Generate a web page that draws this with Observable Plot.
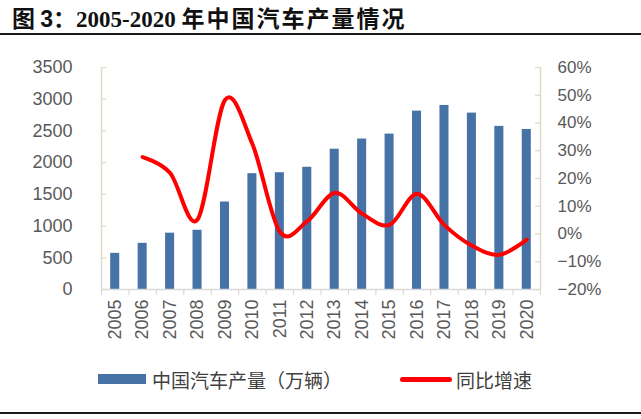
<!DOCTYPE html>
<html><head><meta charset="utf-8">
<script src="https://cdn.jsdelivr.net/npm/d3@7"></script>
<script src="https://cdn.jsdelivr.net/npm/@observablehq/plot@0.6"></script>
<style>
html,body{margin:0;padding:0;background:#fff}
body{width:641px;height:419px;position:relative;overflow:hidden}
#title{position:absolute;left:0;top:0;width:641px;height:33px;border-bottom:2px solid #1a1a1a;box-sizing:content-box}
#title .t{position:absolute;left:12px;top:3px;line-height:28px;font-size:23px;font-weight:bold;color:#111;white-space:nowrap;font-family:"Liberation Serif","Noto Sans CJK SC",serif}
#title .s{font-family:"Liberation Sans",Arial,sans-serif}
#title .c{font-family:"Noto Sans CJK SC",sans-serif}
#title .cs{font-family:"Noto Sans CJK SC",sans-serif;letter-spacing:2px}
#chart{position:absolute;left:0;top:40px}
#legend{position:absolute;left:0;top:366px;width:641px;height:26px;font-family:"Noto Sans CJK SC",sans-serif;font-size:19px;color:#404040}
#legend .item{position:absolute;top:0;height:26px;display:flex;align-items:center;white-space:nowrap}
#legend .sw{display:inline-block;margin-right:6px}
#foot{position:absolute;left:0;top:412px;width:641px;height:0;border-top:2px solid #1a1a1a}
</style></head>
<body>
<div id="title"><div class="t"><span class="c">图&nbsp;</span><span class="s">3</span><span class="c">：</span>2005-2020 <span class="cs">年中国汽车产量情况</span></div></div>
<div id="chart"></div>
<div id="legend">
  <div class="item" style="left:98px"><span class="sw" style="width:48px;height:10px;background:#4672A6"></span><span>中国汽车产量（万辆）</span></div>
  <div class="item" style="left:400px"><span class="sw" style="width:52px;height:5px;border-radius:3px;background:#FF0000;margin-right:4px"></span><span>同比增速</span></div>
</div>
<div id="foot"></div>
<script>
const years = [2005,2006,2007,2008,2009,2010,2011,2012,2013,2014,2015,2016,2017,2018,2019,2020];
const production = [570,728,888,934,1379,1826,1841,1927,2212,2372,2450,2812,2902,2781,2572,2523];
const growth = [null,27.7,22.0,5.2,48.3,32.4,0.8,4.6,14.8,7.3,3.3,14.5,3.2,-4.2,-7.5,-2.0];
const leftTicks = [0,500,1000,1500,2000,2500,3000,3500];
const rightTicks = [-20,-10,0,10,20,30,40,50,60];

const LMAX = 3500, RMIN = -20, RMAX = 60;
const toLeft = g => (g - RMIN) / (RMAX - RMIN) * LMAX;
const fromLeft = v => v / LMAX * (RMAX - RMIN) + RMIN;

const barData = years.map((y, i) => ({year: y, production: production[i]}));
const lineData = years.map((y, i) => ({year: y, growth: growth[i]})).filter(d => d.growth != null);
const boundaries = d3.range(years[0] - 0.5, years[years.length - 1] + 1, 1);

const axisColor = "#d9d9d9";
const sideColor = "#dedac6";
const labelColor = "#595959";

const chart = Plot.plot({
  width: 641,
  height: 320,
  marginLeft: 101,
  marginRight: 101,
  marginTop: 27,
  marginBottom: 71,
  style: {fontFamily: "'Liberation Sans', Arial, sans-serif", background: "transparent"},
  x: {domain: [years[0] - 0.5, years[years.length - 1] + 0.5]},
  y: {domain: [0, LMAX]},
  marks: [
    Plot.rectY(barData, {x1: d => d.year - 0.5, x2: d => d.year + 0.5, y: "production", fill: "#4672A6", insetLeft: 9.2, insetRight: 9.2}),
    Plot.ruleY([0], {stroke: axisColor, strokeWidth: 1.5}),
    Plot.ruleX(boundaries, {x: d => d, y1: 0, y2: 0, insetBottom: -6, stroke: axisColor, strokeWidth: 1.2}),
    Plot.ruleX([years[0] - 0.5], {y1: 0, y2: LMAX, stroke: sideColor, strokeWidth: 1.5}),
    Plot.ruleX([years[years.length - 1] + 0.5], {y1: 0, y2: LMAX, stroke: sideColor, strokeWidth: 1.5}),
    Plot.ruleY(leftTicks, {y: d => d, x1: years[0] - 0.5, x2: years[0] - 0.5, insetRight: -5, stroke: sideColor, strokeWidth: 1.2}),
    Plot.ruleY(rightTicks.map(toLeft), {y: d => d, x1: years[years.length - 1] + 0.5, x2: years[years.length - 1] + 0.5, insetLeft: -5, stroke: sideColor, strokeWidth: 1.2}),
    Plot.line(lineData, {x: "year", y: d => toLeft(d.growth), stroke: "#FF0000", strokeWidth: 4, curve: "cardinal", strokeLinecap: "round", strokeLinejoin: "round"}),
    Plot.axisY({ticks: leftTicks, tickSize: 0, tickPadding: 29, fontSize: 18, fill: labelColor, label: null, tickFormat: d => String(d)}),
    Plot.axisY({anchor: "right", ticks: rightTicks.map(toLeft), tickSize: 0, tickPadding: 17, fontSize: 17, fill: labelColor, label: null,
      tickFormat: v => { const g = Math.round(fromLeft(v)); return (g < 0 ? "\u2212" : "") + Math.abs(g) + "%"; }}),
    Plot.axisX({ticks: years, tickSize: 0, tickPadding: 10, tickRotate: -90, fontSize: 18, fill: labelColor, label: null, tickFormat: d => String(d)})
  ]
});
document.getElementById("chart").appendChild(chart);
</script>
</body></html>
